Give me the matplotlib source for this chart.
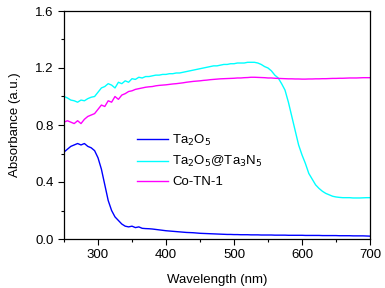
import numpy as np
import matplotlib
matplotlib.use("Agg")
import matplotlib.pyplot as plt
from matplotlib.ticker import MultipleLocator

plt.rcParams['font.family'] = ['Liberation Sans', 'DejaVu Sans']

wavelength = np.arange(250, 701, 5)

ta2o5 = [
    0.61, 0.63, 0.65, 0.66, 0.67, 0.66, 0.67, 0.65, 0.64, 0.62,   # 250-295
    0.57, 0.49, 0.38, 0.27, 0.20, 0.155, 0.13, 0.105, 0.09, 0.085,  # 300-345
    0.09, 0.08, 0.085, 0.075, 0.073, 0.072, 0.07, 0.067, 0.064, 0.061,  # 350-395
    0.058, 0.056, 0.054, 0.052, 0.050, 0.048, 0.046, 0.045, 0.044, 0.042,  # 400-445
    0.040, 0.039, 0.038, 0.037, 0.036, 0.035, 0.034, 0.033, 0.032, 0.032,  # 450-495
    0.031, 0.031, 0.030, 0.030, 0.030, 0.029, 0.029, 0.029, 0.028, 0.028,  # 500-545
    0.028, 0.028, 0.027, 0.027, 0.027, 0.027, 0.026, 0.026, 0.026, 0.026,  # 550-595
    0.026, 0.025, 0.025, 0.025, 0.025, 0.025, 0.024, 0.024, 0.024, 0.024,  # 600-645
    0.024, 0.023, 0.023, 0.023, 0.023, 0.022, 0.022, 0.022, 0.022, 0.021,  # 650-695
    0.020,  # 700
]

ta2o5_ta3n5 = [
    1.00, 0.99, 0.975, 0.97, 0.96, 0.975, 0.97, 0.985, 0.995, 1.00,   # 250-295
    1.03, 1.06, 1.07, 1.09, 1.08, 1.06, 1.10, 1.09, 1.11, 1.10,      # 300-345
    1.125, 1.12, 1.135, 1.13, 1.14, 1.14, 1.145, 1.15, 1.15, 1.155,  # 350-395
    1.155, 1.16, 1.16, 1.165, 1.165, 1.17, 1.175, 1.18, 1.185, 1.19,  # 400-445
    1.195, 1.20, 1.205, 1.21, 1.215, 1.215, 1.22, 1.225, 1.225, 1.23,  # 450-495
    1.23, 1.235, 1.235, 1.235, 1.24, 1.24, 1.24, 1.235, 1.225, 1.21,  # 500-545
    1.20, 1.18, 1.15, 1.13, 1.09, 1.045, 0.96, 0.86, 0.76, 0.66,     # 550-595
    0.59, 0.53, 0.46, 0.42, 0.38, 0.355, 0.335, 0.32, 0.31, 0.30,    # 600-645
    0.295, 0.292, 0.29, 0.29, 0.29, 0.288, 0.288, 0.288, 0.289, 0.29,  # 650-695
    0.29,  # 700
]

co_tn_1 = [
    0.82, 0.83, 0.82, 0.81, 0.83, 0.81, 0.84, 0.86, 0.87, 0.88,      # 250-295
    0.91, 0.94, 0.93, 0.97, 0.96, 1.00, 0.98, 1.01, 1.02, 1.035,     # 300-345
    1.04, 1.05, 1.055, 1.06, 1.065, 1.068, 1.07, 1.075, 1.078, 1.08,  # 350-395
    1.082, 1.085, 1.088, 1.09, 1.093, 1.096, 1.10, 1.103, 1.106, 1.108,  # 400-445
    1.11, 1.113, 1.115, 1.118, 1.12, 1.122, 1.124, 1.125, 1.126, 1.127,  # 450-495
    1.128, 1.13, 1.13, 1.132, 1.133, 1.135, 1.135, 1.134, 1.133, 1.132,  # 500-545
    1.13, 1.13, 1.128, 1.127, 1.126, 1.125, 1.124, 1.124, 1.123, 1.123,  # 550-595
    1.122, 1.122, 1.123, 1.123, 1.124, 1.124, 1.125, 1.125, 1.126, 1.127,  # 600-645
    1.127, 1.128, 1.128, 1.129, 1.13, 1.13, 1.13, 1.131, 1.132, 1.132,  # 650-695
    1.132,  # 700
]

labels = ['Ta$_2$O$_5$', 'Ta$_2$O$_5$@Ta$_3$N$_5$', 'Co-TN-1']
colors = ['#0000FF', '#00FFFF', '#FF00FF']

fig = plt.figure(figsize=(3.85, 2.88), dpi=100)
ax = fig.add_axes([64/385, 1 - 239/288, (370-64)/385, (239-11)/288])

for y, lab, c in zip([ta2o5, ta2o5_ta3n5, co_tn_1], labels, colors):
    ax.plot(wavelength, y, color=c, lw=1.0, label=lab)

ax.set_xlim(250, 700)
ax.set_ylim(0, 1.6)
ax.xaxis.set_major_locator(MultipleLocator(100))
ax.xaxis.set_minor_locator(MultipleLocator(50))
ax.yaxis.set_major_locator(MultipleLocator(0.4))
ax.yaxis.set_minor_locator(MultipleLocator(0.2))
ax.tick_params(which='both', direction='out', top=False, right=False, labelsize=9.5)
ax.tick_params(which='major', length=4, width=0.8)
ax.tick_params(which='minor', length=2.5, width=0.8)
ax.yaxis.set_major_formatter(matplotlib.ticker.FormatStrFormatter('%.1f'))
for s in ax.spines.values():
    s.set_linewidth(0.9)

ax.set_xlabel('Wavelength (nm)', fontsize=9.5, labelpad=9)
ax.set_ylabel('Absorbance (a.u.)', fontsize=9.5, labelpad=10)

ax.legend(loc='upper left', bbox_to_anchor=(0.22, 0.49), frameon=False,
          fontsize=9.5, handlelength=2.4, handletextpad=0.3, labelspacing=0.5,
          borderaxespad=0)

fig.savefig('out.png', dpi=100)
